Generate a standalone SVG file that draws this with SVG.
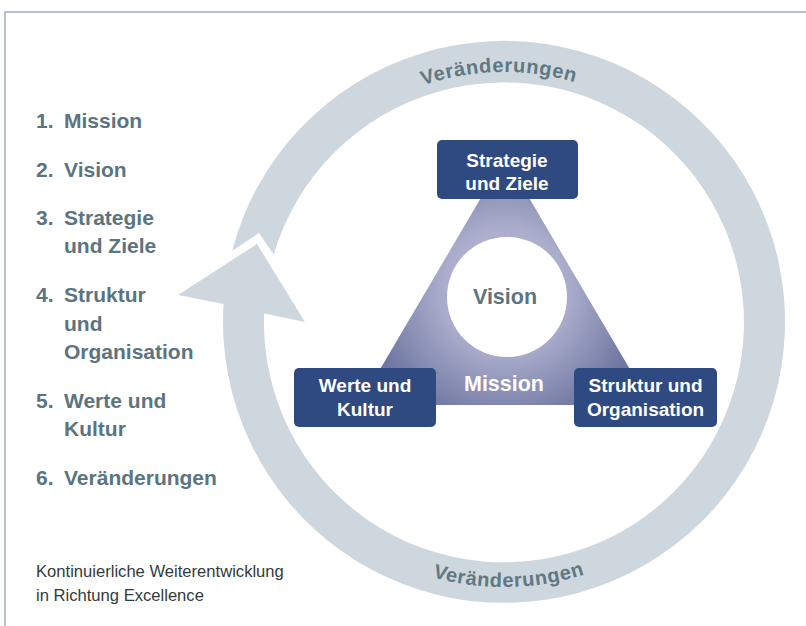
<svg xmlns="http://www.w3.org/2000/svg" width="806" height="626" viewBox="0 0 806 626">
  <style>
    .frame { fill: none; stroke: #b7c2c9; stroke-width: 2; }
    .list { font-family: "Liberation Sans", Arial, sans-serif; font-weight: bold; font-size: 21px; fill: #5b7480; }
    .note { font-family: "Liberation Sans", Arial, sans-serif; font-size: 16.6px; fill: #333a3e; }
    .ring { fill: #cdd7dd; }
    .ringlabel { font-family: "Liberation Sans", Arial, sans-serif; font-weight: bold; font-size: 20px; fill: #5f7884; letter-spacing: 0.7px; }
    .box { fill: #2e4a80; }
    .boxlabel { font-family: "Liberation Sans", Arial, sans-serif; font-weight: bold; font-size: 19px; fill: #ffffff; text-anchor: middle; }
    .centerlabel { font-family: "Liberation Sans", Arial, sans-serif; font-weight: bold; font-size: 21.5px; text-anchor: middle; }
  </style>
  <defs>
    <radialGradient id="triFill" gradientUnits="userSpaceOnUse" cx="505" cy="290" r="190">
      <stop offset="0" stop-color="#c9cbe0"/>
      <stop offset="0.35" stop-color="#a7aac9"/>
      <stop offset="0.7" stop-color="#737aa4"/>
      <stop offset="1" stop-color="#52608f"/>
    </radialGradient>
    <path id="arcTop" d="M 327.2 145.2 A 250 250 0 0 1 680.8 145.2"/>
    <path id="arcBottom" d="M 316.6 509.4 A 265 265 0 0 0 691.4 509.4"/>
  </defs>

  <rect width="806" height="626" fill="#ffffff"/>

  <!-- page frame: top and left rules -->
  <path class="frame" d="M 5 626 L 5 12 L 806 12"/>

  <!-- numbered list -->
  <g id="list">
    <text class="list" x="36" y="128">1.</text><text class="list" x="64" y="128">Mission</text>
    <text class="list" x="36" y="177">2.</text><text class="list" x="64" y="177">Vision</text>
    <text class="list" x="36" y="225">3.</text><text class="list" x="64" y="225">Strategie</text>
    <text class="list" x="64" y="253">und Ziele</text>
    <text class="list" x="36" y="302">4.</text><text class="list" x="64" y="302">Struktur</text>
    <text class="list" x="64" y="331">und</text>
    <text class="list" x="64" y="359">Organisation</text>
    <text class="list" x="36" y="408">5.</text><text class="list" x="64" y="408">Werte und</text>
    <text class="list" x="64" y="436">Kultur</text>
    <text class="list" x="36" y="485">6.</text><text class="list" x="64" y="485">Veränderungen</text>
  </g>

  <!-- caption -->
  <g id="caption">
    <text class="note" x="36" y="577">Kontinuierliche Weiterentwicklung</text>
    <text class="note" x="36" y="601">in Richtung Excellence</text>
  </g>

  <!-- cycle arrow around the model -->
  <g id="connectors">
    <path class="ring" d="M 232.2 250.7 L 259 233 L 273.7 254.6 A 240 240 0 1 1 264.1 313.6 L 305 322 L 257 244 L 178 295 L 223.6 304.1 A 281 281 0 1 0 232.2 250.7 Z"/>
    <text class="ringlabel"><textPath href="#arcTop" startOffset="48.7%" text-anchor="middle">Veränderungen</textPath></text>
    <text class="ringlabel"><textPath href="#arcBottom" startOffset="51.2%" text-anchor="middle">Veränderungen</textPath></text>
  </g>

  <!-- triangle with mission and vision -->
  <g id="mission">
    <polygon points="505,157 651,405 359,405" fill="url(#triFill)"/>
    <text class="centerlabel" x="504" y="391" fill="#ffffff">Mission</text>
  </g>
  <g id="vision">
    <circle cx="507" cy="297" r="60" fill="#ffffff"/>
    <text class="centerlabel" x="505" y="304" fill="#5b7480">Vision</text>
  </g>

  <!-- corner boxes -->
  <g id="strategie">
    <rect class="box" x="437" y="140" width="141" height="59" rx="5"/>
    <text class="boxlabel" x="507" y="167">Strategie</text>
    <text class="boxlabel" x="507" y="190">und Ziele</text>
  </g>
  <g id="werte">
    <rect class="box" x="294" y="368" width="142" height="59" rx="5"/>
    <text class="boxlabel" x="365" y="392">Werte und</text>
    <text class="boxlabel" x="365" y="416">Kultur</text>
  </g>
  <g id="struktur">
    <rect class="box" x="574" y="368" width="143" height="59" rx="5"/>
    <text class="boxlabel" x="645.5" y="392">Struktur und</text>
    <text class="boxlabel" x="645.5" y="416">Organisation</text>
  </g>
</svg>
